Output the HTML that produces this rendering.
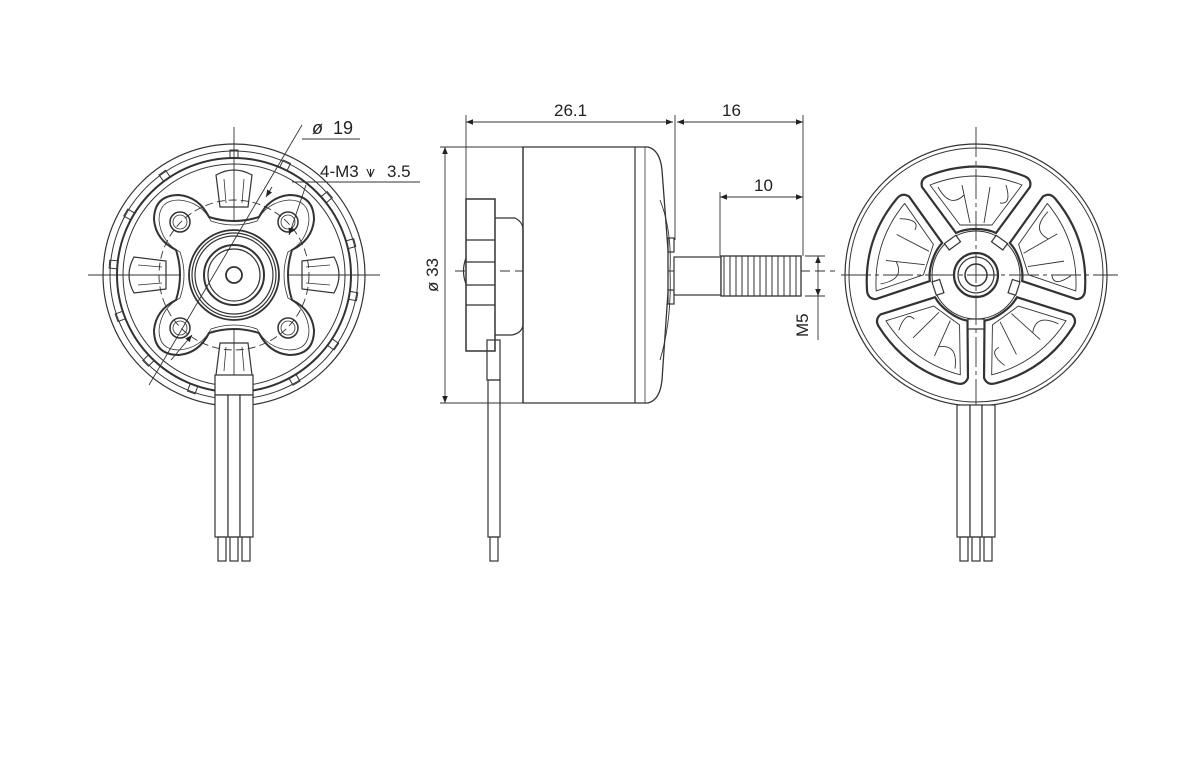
<!DOCTYPE html>
<html><head><meta charset="utf-8"><style>
html,body{margin:0;padding:0;background:#fff;width:1200px;height:761px;overflow:hidden}
svg{display:block}
text{font-family:"Liberation Sans",sans-serif;fill:#222}
</style></head><body>
<svg width="1200" height="761" viewBox="0 0 1200 761" xmlns="http://www.w3.org/2000/svg">
<defs>
<marker id="ar" viewBox="0 0 10 10" refX="10" refY="5" markerWidth="9" markerHeight="7" orient="auto-start-reverse" markerUnits="userSpaceOnUse"><path d="M0,1 L10,5 L0,9 z" fill="#222"/></marker>
</defs>
<g fill="none" stroke="#333" stroke-width="1.2">

<!-- LEFT MOTOR -->
<g transform="translate(234,275)">
 <line x1="-146" y1="0" x2="146" y2="0" stroke-width="0.9"/>
 <line x1="0" y1="-148" x2="0" y2="110" stroke-width="0.9"/>
 <circle r="131"/>
 <circle r="124" stroke-width="1"/>
 <circle r="117" stroke-width="2"/>
 <circle r="111" stroke-width="1"/>
 <g stroke-width="1">
  <g id="tk"><rect x="-4" y="-125" width="8" height="8"/></g>
  <use href="#tk" transform="rotate(25)"/><use href="#tk" transform="rotate(50)"/><use href="#tk" transform="rotate(75)"/><use href="#tk" transform="rotate(100)"/><use href="#tk" transform="rotate(125)"/><use href="#tk" transform="rotate(150)"/><use href="#tk" transform="rotate(200)"/><use href="#tk" transform="rotate(225)"/><use href="#tk" transform="rotate(250)"/><use href="#tk" transform="rotate(275)"/><use href="#tk" transform="rotate(300)"/><use href="#tk" transform="rotate(325)"/>
 </g>
 <g stroke-width="1.2">
  <g id="fin"><path d="M-14,-68 L-18,-100 Q0,-110 18,-100 L14,-68 Z"/><path d="M-8,-72 L-10,-96 M8,-72 L10,-96" stroke-width="0.8"/></g>
  <use href="#fin" transform="rotate(90)"/><use href="#fin" transform="rotate(180)"/><use href="#fin" transform="rotate(270)"/>
  <use href="#fin" transform="rotate(45) scale(0.95)"/><use href="#fin" transform="rotate(135) scale(0.95)"/><use href="#fin" transform="rotate(225) scale(0.95)"/><use href="#fin" transform="rotate(315) scale(0.95)"/>
 </g>
 <!-- plate -->
 <path d="M-55,-80 Q-35,-78 -25,-58 Q0,-50 25,-58 Q35,-78 55,-80 Q80,-80 80,-55 Q78,-35 58,-25 Q50,0 58,25 Q78,35 80,55 Q80,80 55,80 Q35,78 25,58 Q0,50 -25,58 Q-35,78 -55,80 Q-80,80 -80,55 Q-78,35 -58,25 Q-50,0 -58,-25 Q-78,-35 -80,-55 Q-80,-80 -55,-80 Z" fill="#fff" stroke-width="2"/>
 <path d="M-55,-75 Q-33,-73 -23,-54 Q0,-46 23,-54 Q33,-73 55,-75 Q75,-75 75,-55 Q73,-33 54,-23 Q46,0 54,23 Q73,33 75,55 Q75,75 55,75 Q33,73 23,54 Q0,46 -23,54 Q-33,73 -55,75 Q-75,75 -75,55 Q-73,33 -54,23 Q-46,0 -54,-23 Q-73,-33 -75,-55 Q-75,-75 -55,-75 Z" stroke-width="0.8"/>
 <circle r="75" stroke-dasharray="8,4" stroke-width="0.9"/>
 <g stroke-width="1.5">
  <circle cx="-54" cy="-53" r="10"/><circle cx="54" cy="-53" r="10"/><circle cx="-54" cy="53" r="10"/><circle cx="54" cy="53" r="10"/>
 </g>
 <g stroke-width="0.8"><circle cx="-54" cy="-53" r="7"/><circle cx="54" cy="-53" r="7"/><circle cx="-54" cy="53" r="7"/><circle cx="54" cy="53" r="7"/></g>
 <circle r="45" stroke-width="1.8"/><circle r="42"/><circle r="39"/>
 <circle r="30" stroke-width="2"/><circle r="26"/>
 <circle r="8" stroke-width="1.8"/>
 <rect x="-19" y="100" width="38" height="20" fill="#fff"/>
 <line x1="-85" y1="110" x2="68" y2="-150" stroke-width="0.9"/>
 <line x1="-63" y1="85" x2="-42" y2="60" stroke-width="0.9" marker-end="url(#ar)"/>
 <line x1="32" y1="-78" x2="38" y2="-88" stroke-width="0.9" marker-start="url(#ar)"/>
 <line x1="55" y1="-40" x2="72" y2="-90" stroke-width="0.9" marker-start="url(#ar)"/>
</g>
<line x1="302" y1="139" x2="360" y2="139" stroke-width="0.9"/>
<line x1="292" y1="182" x2="420" y2="182" stroke-width="0.9"/>
<g fill="#fff"><rect x="215" y="395" width="13" height="142"/><rect x="228" y="395" width="12" height="142"/><rect x="240" y="395" width="13" height="142"/></g>
<rect x="218" y="537" width="8" height="24"/><rect x="230" y="537" width="8" height="24"/><rect x="242" y="537" width="8" height="24"/>

<!-- MIDDLE VIEW -->
<line x1="455" y1="271" x2="835" y2="271" stroke-dasharray="10,5" stroke-width="0.9"/>
<path d="M523,147 L648,147 Q660,150 662,170 L668,250 L668,292 L662,380 Q660,400 648,403 L523,403 Z" fill="#fff" stroke-width="1.3"/>
<line x1="523" y1="147" x2="523" y2="403"/>
<line x1="635" y1="147" x2="635" y2="403"/>
<line x1="645" y1="147" x2="645" y2="403" stroke-width="0.8"/>
<path d="M660,200 Q672,230 670,271 Q672,320 660,360" stroke-width="0.9"/>
<rect x="668" y="238" width="6" height="14"/><rect x="668" y="290" width="6" height="14"/>
<rect x="466" y="199" width="29" height="152" fill="#fff" stroke-width="1.5"/>
<line x1="466" y1="240" x2="495" y2="240"/><line x1="466" y1="262" x2="495" y2="262"/><line x1="466" y1="285" x2="495" y2="285"/><line x1="466" y1="305" x2="495" y2="305"/>
<path d="M495,218 L515,218 Q523,222 523,230 L523,325 Q522,333 512,335 L495,335" />
<path d="M466,258 Q461,271 466,284"/>
<rect x="487" y="340" width="13" height="40"/>
<rect x="488" y="380" width="12" height="157"/>
<rect x="490" y="537" width="8" height="24"/>
<rect x="674" y="257" width="47" height="38" fill="#fff"/>
<rect x="721" y="256" width="80" height="40" fill="#fff" stroke-width="1.3"/>
<g stroke-width="1">
 <path d="M724,256 V296 M730,256 V296 M736,256 V296 M742,256 V296 M748,256 V296 M754,256 V296 M760,256 V296 M766,256 V296 M772,256 V296 M778,256 V296 M784,256 V296 M790,256 V296 M796,256 V296"/>
</g>
<g stroke-width="0.9">
 <line x1="466" y1="115" x2="466" y2="199"/>
 <line x1="675" y1="115" x2="675" y2="240"/>
 <line x1="803" y1="115" x2="803" y2="256"/>
 <line x1="720" y1="192" x2="720" y2="256"/>
 <line x1="466" y1="122" x2="673" y2="122" marker-start="url(#ar)" marker-end="url(#ar)"/>
 <line x1="677" y1="122" x2="803" y2="122" marker-start="url(#ar)" marker-end="url(#ar)"/>
 <line x1="720" y1="197" x2="803" y2="197" marker-start="url(#ar)" marker-end="url(#ar)"/>
 <line x1="440" y1="147" x2="523" y2="147"/>
 <line x1="440" y1="403" x2="523" y2="403"/>
 <line x1="445" y1="147" x2="445" y2="403" marker-start="url(#ar)" marker-end="url(#ar)"/>
 <line x1="805" y1="256" x2="825" y2="256"/>
 <line x1="805" y1="296" x2="825" y2="296"/>
 <line x1="818" y1="256" x2="818" y2="296" marker-start="url(#ar)" marker-end="url(#ar)"/>
 <line x1="818" y1="296" x2="818" y2="340"/>
</g>

<!-- RIGHT MOTOR -->
<g transform="translate(976,275)">
 <circle r="131"/>
 <circle r="127" stroke-width="1"/>
 <g fill="#fff">
  <g id="win">
   <path d="M-20,-42 Q-12,-46 0,-46 Q12,-46 20,-42 L54,-88 Q56,-96 48,-99 Q0,-118 -48,-99 Q-56,-96 -54,-88 Z" stroke-width="2.2" stroke-linejoin="round"/>
   <path d="M-16,-50 L16,-50 L46,-90 Q0,-108 -46,-90 Z" stroke-width="0.9" stroke-linejoin="round"/>
   <path d="M-6,-52 L-14,-90 M8,-52 L14,-88 M-38,-88 Q-26,-66 -12,-80 M30,-90 Q36,-70 24,-72" stroke-width="0.9" fill="none"/>
  </g>
  <use href="#win" transform="rotate(72)"/><use href="#win" transform="rotate(144)"/><use href="#win" transform="rotate(216)"/><use href="#win" transform="rotate(288)"/>
 </g>
 <circle r="44" stroke-width="1"/>
 <g stroke-width="1.2" fill="#fff">
  <rect x="-7" y="-44" width="14" height="8" transform="rotate(-36)"/>
  <rect x="-7" y="-44" width="14" height="8" transform="rotate(36)"/>
  <rect x="-7" y="-44" width="14" height="8" transform="rotate(108)"/>
  <rect x="-7" y="-44" width="14" height="8" transform="rotate(252)"/>
 </g>
 <circle r="22" stroke-width="2.2"/><circle r="18"/><circle r="11" stroke-width="1.5"/>
 <rect x="-8" y="44" width="16" height="10" fill="#fff"/>
 <line x1="-135" y1="0" x2="142" y2="0" stroke-width="0.9" stroke-dasharray="30,4,4,4"/>
 <line x1="0" y1="-148" x2="0" y2="170" stroke-width="0.9" stroke-dasharray="30,4,4,4"/>
</g>
<g fill="#fff"><rect x="957" y="405" width="13" height="132"/><rect x="970" y="405" width="12" height="132"/><rect x="982" y="405" width="13" height="132"/></g>
<rect x="960" y="537" width="8" height="24"/><rect x="972" y="537" width="8" height="24"/><rect x="984" y="537" width="8" height="24"/>
</g>

<text x="312" y="134" font-size="18" font-style="italic">ø</text>
<text x="333" y="134" font-size="18">19</text>
<text x="320" y="177" font-size="17">4-M3</text>
<text x="366" y="177" font-size="16">⩛</text>
<text x="387" y="177" font-size="17">3.5</text>
<text x="554" y="116" font-size="17">26.1</text>
<text x="722" y="116" font-size="17">16</text>
<text x="754" y="191" font-size="17">10</text>
<text transform="translate(438,292) rotate(-90)" font-size="17">ø 33</text>
<text transform="translate(808,337) rotate(-90)" font-size="17">M5</text>
</svg>
</body></html>
